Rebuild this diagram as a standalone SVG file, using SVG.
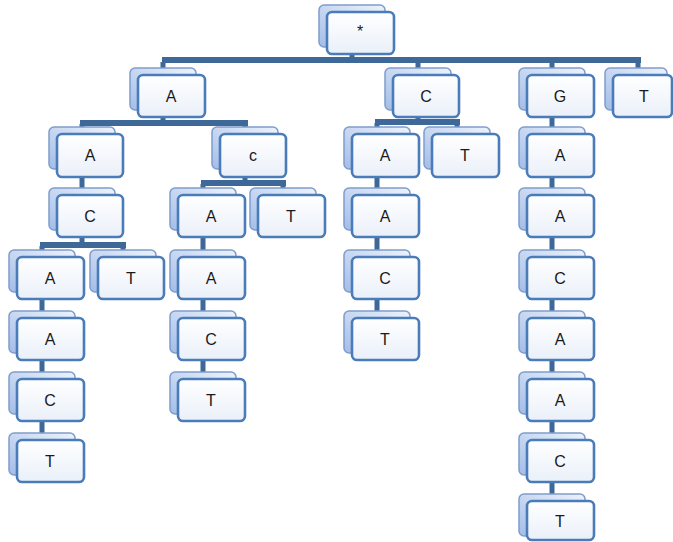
<svg xmlns="http://www.w3.org/2000/svg" width="673" height="542" viewBox="0 0 673 542">
<defs>
<linearGradient id="gf" x1="0" y1="0" x2="0" y2="1">
<stop offset="0" stop-color="#ffffff"/>
<stop offset="1" stop-color="#eaf0f9"/>
</linearGradient>
<linearGradient id="gb" x1="1" y1="0" x2="0" y2="1">
<stop offset="0" stop-color="#eef3fc"/>
<stop offset="1" stop-color="#a3bde8"/>
</linearGradient>
</defs>
<style>
.bk{fill:url(#gb);stroke:#7f9dcc;stroke-width:1.5}
.fr{fill:url(#gf);stroke:#4a7cba;stroke-width:2.6}
.t{font-family:"Liberation Sans",Arial,sans-serif;font-size:16px;fill:#1a1a1a;text-anchor:middle}
.c{stroke:#3d6898;fill:none;stroke-width:5}
.bar{stroke:#3d6898;fill:none;stroke-width:6}
</style>
<rect width="673" height="542" fill="#ffffff"/>
<g id="connectors">
<path class="c" d="M352 53V62M163 62V70M418 62V70M552 62V70M638 62V70"/>
<path class="bar" d="M162 60H641"/>
<path class="c" d="M163 117V124M82 124V130M245 124V130"/>
<path class="bar" d="M80 123H248"/>
<path class="c" d="M418 117V123M377 123V130M457 123V130"/>
<path class="bar" d="M375 122H460"/>
<path class="c" d="M552 117V130"/>
<path class="c" d="M82 177V190"/>
<path class="c" d="M245 177V184M203 184V190M283 184V190"/>
<path class="bar" d="M201 183H286"/>
<path class="c" d="M377 177V190M552 177V190"/>
<path class="c" d="M82 237V246M42 246V252M123 246V252"/>
<path class="bar" d="M40 245H126"/>
<path class="c" d="M203 237V252M377 237V252M552 237V252"/>
<path class="c" d="M42 299V313M203 299V313M377 299V313M552 299V313"/>
<path class="c" d="M42 360V374M203 360V374M552 360V374"/>
<path class="c" d="M42 421V435M552 421V435"/>
<path class="c" d="M552 482V496"/>
</g>
<g id="n0"><rect class="bk" x="319" y="5" width="66" height="42" rx="5"/><rect class="fr" x="327" y="12" width="67" height="42" rx="5"/><text class="t" x="360" y="37">*</text></g>
<g id="n1"><rect class="bk" x="130" y="68" width="66" height="42" rx="5"/><rect class="fr" x="138" y="75" width="67" height="42" rx="5"/><text class="t" x="171" y="102">A</text></g>
<g id="n2"><rect class="bk" x="385" y="68" width="66" height="42" rx="5"/><rect class="fr" x="393" y="75" width="66" height="42" rx="5"/><text class="t" x="426" y="102">C</text></g>
<g id="n3"><rect class="bk" x="519" y="68" width="66" height="42" rx="5"/><rect class="fr" x="527" y="75" width="67" height="42" rx="5"/><text class="t" x="560" y="102">G</text></g>
<g id="n4"><rect class="bk" x="605" y="68" width="62" height="42" rx="5"/><rect class="fr" x="613" y="75" width="59" height="42" rx="5"/><text class="t" x="644" y="102">T</text></g>
<g id="n5"><rect class="bk" x="49" y="127" width="66" height="42" rx="5"/><rect class="fr" x="57" y="134" width="66" height="43" rx="5"/><text class="t" x="90" y="161">A</text></g>
<g id="n6"><rect class="bk" x="212" y="127" width="66" height="42" rx="5"/><rect class="fr" x="220" y="134" width="66" height="43" rx="5"/><text class="t" x="253" y="161">c</text></g>
<g id="n7"><rect class="bk" x="344" y="127" width="66" height="42" rx="5"/><rect class="fr" x="352" y="134" width="67" height="43" rx="5"/><text class="t" x="385" y="161">A</text></g>
<g id="n8"><rect class="bk" x="424" y="127" width="66" height="42" rx="5"/><rect class="fr" x="432" y="134" width="67" height="43" rx="5"/><text class="t" x="465" y="161">T</text></g>
<g id="n9"><rect class="bk" x="519" y="127" width="66" height="42" rx="5"/><rect class="fr" x="527" y="134" width="67" height="43" rx="5"/><text class="t" x="560" y="161">A</text></g>
<g id="n10"><rect class="bk" x="49" y="188" width="66" height="42" rx="5"/><rect class="fr" x="57" y="195" width="66" height="42" rx="5"/><text class="t" x="90" y="222">C</text></g>
<g id="n11"><rect class="bk" x="170" y="188" width="66" height="42" rx="5"/><rect class="fr" x="178" y="195" width="67" height="42" rx="5"/><text class="t" x="211" y="222">A</text></g>
<g id="n12"><rect class="bk" x="250" y="188" width="66" height="42" rx="5"/><rect class="fr" x="258" y="195" width="67" height="42" rx="5"/><text class="t" x="291" y="222">T</text></g>
<g id="n13"><rect class="bk" x="344" y="188" width="66" height="42" rx="5"/><rect class="fr" x="352" y="195" width="67" height="42" rx="5"/><text class="t" x="385" y="222">A</text></g>
<g id="n14"><rect class="bk" x="519" y="188" width="66" height="42" rx="5"/><rect class="fr" x="527" y="195" width="67" height="42" rx="5"/><text class="t" x="560" y="222">A</text></g>
<g id="n15"><rect class="bk" x="9" y="250" width="66" height="42" rx="5"/><rect class="fr" x="17" y="257" width="67" height="42" rx="5"/><text class="t" x="50" y="284">A</text></g>
<g id="n16"><rect class="bk" x="90" y="250" width="66" height="42" rx="5"/><rect class="fr" x="98" y="257" width="66" height="42" rx="5"/><text class="t" x="131" y="284">T</text></g>
<g id="n17"><rect class="bk" x="170" y="250" width="66" height="42" rx="5"/><rect class="fr" x="178" y="257" width="67" height="42" rx="5"/><text class="t" x="211" y="284">A</text></g>
<g id="n18"><rect class="bk" x="344" y="250" width="66" height="42" rx="5"/><rect class="fr" x="352" y="257" width="67" height="42" rx="5"/><text class="t" x="385" y="284">C</text></g>
<g id="n19"><rect class="bk" x="519" y="250" width="66" height="42" rx="5"/><rect class="fr" x="527" y="257" width="67" height="42" rx="5"/><text class="t" x="560" y="284">C</text></g>
<g id="n20"><rect class="bk" x="9" y="311" width="66" height="42" rx="5"/><rect class="fr" x="17" y="318" width="67" height="42" rx="5"/><text class="t" x="50" y="345">A</text></g>
<g id="n21"><rect class="bk" x="170" y="311" width="66" height="42" rx="5"/><rect class="fr" x="178" y="318" width="67" height="42" rx="5"/><text class="t" x="211" y="345">C</text></g>
<g id="n22"><rect class="bk" x="344" y="311" width="66" height="42" rx="5"/><rect class="fr" x="352" y="318" width="67" height="42" rx="5"/><text class="t" x="385" y="345">T</text></g>
<g id="n23"><rect class="bk" x="519" y="311" width="66" height="42" rx="5"/><rect class="fr" x="527" y="318" width="67" height="42" rx="5"/><text class="t" x="560" y="345">A</text></g>
<g id="n24"><rect class="bk" x="9" y="372" width="66" height="42" rx="5"/><rect class="fr" x="17" y="379" width="67" height="42" rx="5"/><text class="t" x="50" y="406">C</text></g>
<g id="n25"><rect class="bk" x="170" y="372" width="66" height="42" rx="5"/><rect class="fr" x="178" y="379" width="67" height="42" rx="5"/><text class="t" x="211" y="406">T</text></g>
<g id="n26"><rect class="bk" x="519" y="372" width="66" height="42" rx="5"/><rect class="fr" x="527" y="379" width="67" height="42" rx="5"/><text class="t" x="560" y="406">A</text></g>
<g id="n27"><rect class="bk" x="9" y="433" width="66" height="42" rx="5"/><rect class="fr" x="17" y="440" width="67" height="42" rx="5"/><text class="t" x="50" y="467">T</text></g>
<g id="n28"><rect class="bk" x="519" y="433" width="66" height="42" rx="5"/><rect class="fr" x="527" y="440" width="67" height="42" rx="5"/><text class="t" x="560" y="467">C</text></g>
<g id="n29"><rect class="bk" x="519" y="494" width="66" height="42" rx="5"/><rect class="fr" x="527" y="501" width="67" height="39" rx="5"/><text class="t" x="560" y="527">T</text></g>
</svg>
